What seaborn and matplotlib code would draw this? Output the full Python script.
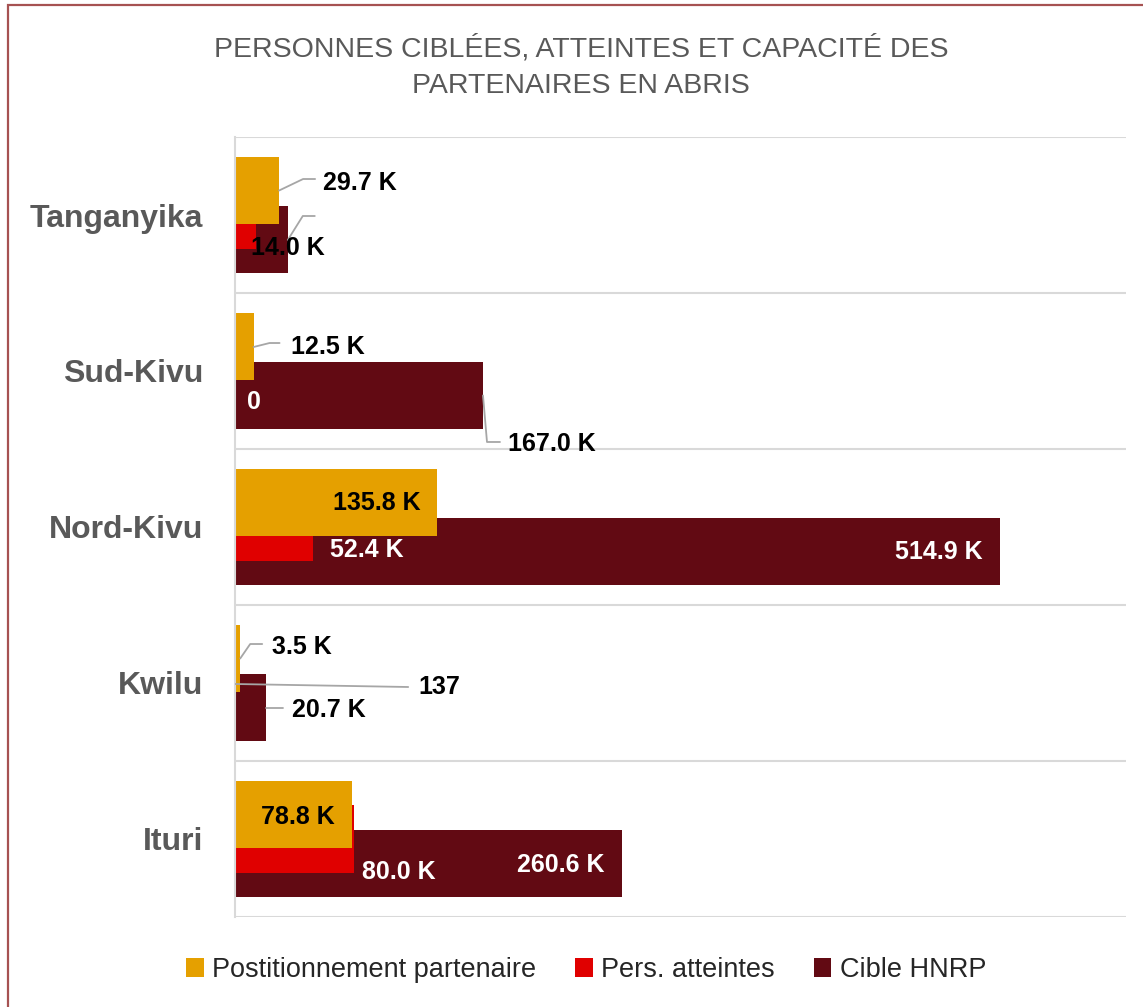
import numpy as np
import pandas as pd
import matplotlib
matplotlib.use('Agg')
import matplotlib.pyplot as plt
from matplotlib.patches import Patch, Rectangle
from matplotlib.lines import Line2D
import seaborn as sns

# données
provinces = ['Tanganyika', 'Sud-Kivu', 'Nord-Kivu', 'Kwilu', 'Ituri']
positionnement = [29700, 12500, 135800, 3500, 78800]
atteintes = [14000, 0, 52400, 137, 80000]
cible_hnrp = [35700, 167000, 514900, 20700, 260600]

lab_positionnement = ['29.7 K', '12.5 K', '135.8 K', '3.5 K', '78.8 K']
lab_atteintes = ['14.0 K', '0', '52.4 K', '137', '80.0 K']
lab_cible = [None, '167.0 K', '514.9 K', '20.7 K', '260.6 K']

series_names = ['Postitionnement partenaire', 'Pers. atteintes', 'Cible HNRP']
couleurs = ['#E5A000', '#E00000', '#620A13']

sns.set_theme(style='white')
plt.rcParams['font.family'] = ['Liberation Sans', 'DejaVu Sans']

W, H = 1143, 1007
fig = plt.figure(figsize=(W / 100, H / 100), dpi=100)
ax = fig.add_axes([235 / W, 1 - 917 / H, (1126 - 235) / W, (917 - 137) / H])

pos = np.arange(len(provinces))
decal = 0.157
larg = 0.435

# ordre de dessin : cible en dessous, puis atteintes, puis positionnement
df_c = pd.DataFrame({'val': cible_hnrp, 'y': pos + decal})
df_a = pd.DataFrame({'val': atteintes, 'y': pos + 0.0})
df_p = pd.DataFrame({'val': positionnement, 'y': pos - decal})
for d, c in [(df_c, couleurs[2]), (df_a, couleurs[1]), (df_p, couleurs[0])]:
    sns.barplot(data=d, x='val', y='y', orient='h', native_scale=True,
                width=larg, color=c, saturation=1, errorbar=None,
                linewidth=0, ax=ax)

ax.set_xlim(0, 600000)
ax.set_ylim(4.5, -0.5)
ax.set_xticks([])
ax.set_yticks(pos)
ax.set_yticklabels(provinces, fontsize=23, fontweight='bold', color='#595959')
ax.set_yticks(np.arange(-0.5, 5, 1), minor=True)
ax.tick_params(axis='y', which='both', length=0, pad=23)
ax.grid(False)
ax.grid(which='minor', axis='y', color='#D9D9D9', lw=1.5)
ax.set_axisbelow(True)
ax.set_xlabel('')
ax.set_ylabel('')
for s in ['top', 'right', 'bottom']:
    ax.spines[s].set_visible(False)
ax.spines['left'].set_color('#D9D9D9')
ax.spines['left'].set_linewidth(1.5)


def to_data(x, y, dx, dy):
    # décalage en pixels (dy vers le bas) depuis un point en coordonnées données
    px = ax.transData.transform((x, y))
    return ax.transData.inverted().transform((px[0] + dx, px[1] - dy))


def etiquette(x, y, txt, dx, dy, ha='left', color='black', leader=None):
    tx, ty = to_data(x, y, dx, dy)
    ax.text(tx, ty, txt, ha=ha, va='center', fontsize=18, fontweight='bold',
            color=color, zorder=5)
    if leader:
        pts = np.array([to_data(x, y, a, b) for a, b in leader])
        ax.add_line(Line2D(pts[:, 0], pts[:, 1], color='#A6A6A6', lw=1.3,
                           zorder=4))


# réglages des étiquettes : (dx, dy, ha, couleur, ligne de rappel)
reg_p = [(44, -7.5, 'left', 'black', [(0, 0), (24, -11.5), (36, -11.5)]),
         (37, 0, 'left', 'black', [(0, 0.5), (16, -3.5), (26, -3.5)]),
         (-16, 0.5, 'right', 'black', None),
         (32, -11.5, 'left', 'black', [(0, 0), (10, -14.5), (22, -14.5)]),
         (-17, 2, 'right', 'black', None)]
reg_a = [(-5, 33, 'left', 'black', [(32, 25), (47, 1), (59, 1)]),
         (12, 31, 'left', 'white', None),
         (17, 23, 'left', 'white', None),
         (183, 4, 'left', 'black', [(0, 1), (173, 4)]),
         (8, 33, 'left', 'white', None)]
reg_c = [None,
         (25, 48.5, 'left', 'black', [(0, 0), (4, 46.5), (17, 46.5)]),
         (-17, 0.5, 'right', 'white', None),
         (26, 2.5, 'left', 'black', [(0, 0.5), (17, 0.5)]),
         (-17, 1.5, 'right', 'white', None)]

for i in range(len(provinces)):
    for vals, labs, regs, off in [(positionnement, lab_positionnement, reg_p, -decal),
                                  (atteintes, lab_atteintes, reg_a, 0.0),
                                  (cible_hnrp, lab_cible, reg_c, decal)]:
        if labs[i] is None:
            continue
        dx, dy, ha, col, lead = regs[i]
        etiquette(vals[i], pos[i] + off, labs[i], dx, dy, ha, col, lead)

# titre
fig.text(581 / W, 1 - 67 / H,
         'PERSONNES CIBLÉES, ATTEINTES ET CAPACITÉ DES\nPARTENAIRES EN ABRIS',
         ha='center', va='center', fontsize=20.5, color='#595959', linespacing=1.55)

# légende
handles = [Patch(facecolor=c, edgecolor='none') for c in couleurs]
fig.legend(handles, series_names, loc='center', bbox_to_anchor=(586 / W, 1 - 970 / H),
           ncol=3, frameon=False, fontsize=19.5, handlelength=0.65, handleheight=0.65,
           handletextpad=0.3, columnspacing=1.45, labelcolor='#262626')

# cadre
fig.patches.append(Rectangle((8 / W, -0.05), 1.2, 1 - 5 / H + 0.05,
                             transform=fig.transFigure, fill=False,
                             edgecolor='#A65252', lw=1.6))

fig.savefig('out.png', dpi=100)
